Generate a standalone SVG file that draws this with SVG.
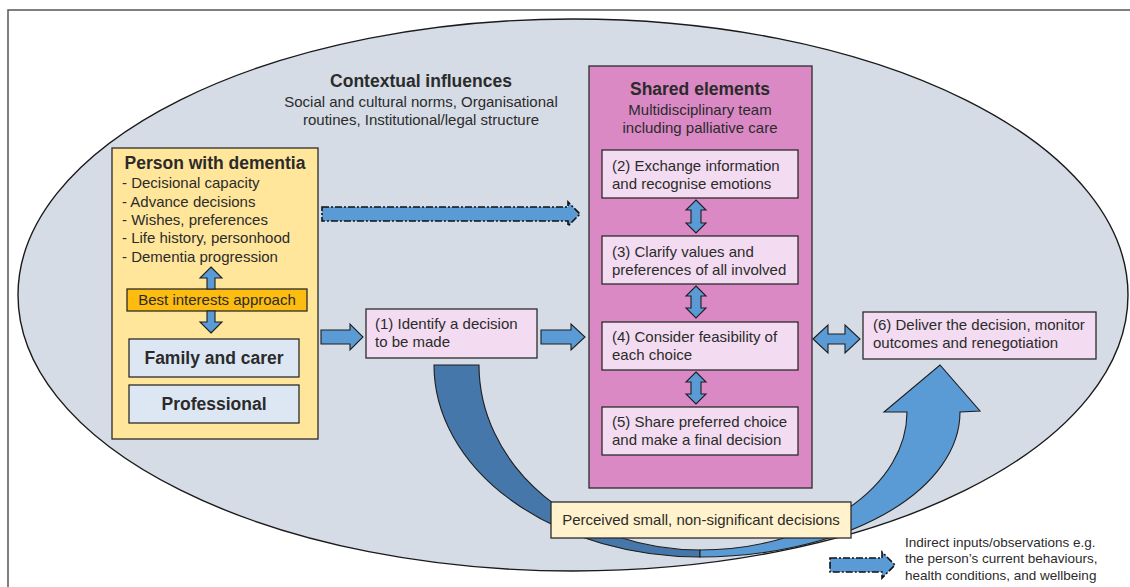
<svg xmlns="http://www.w3.org/2000/svg" width="1130" height="587" viewBox="0 0 1130 587">
<style>
text{font-family:"Liberation Sans",Arial,sans-serif;fill:#2b2b2b}
.t{font-size:15px}
.b{font-size:17.5px;font-weight:bold}
.s{font-size:13.5px}
.c{text-anchor:middle}
.box{stroke:#2b2b2b;stroke-width:1.3}
.pink{fill:#f3dcf1}
.arr{fill:#5b9bd5;stroke:#1e1e1e;stroke-width:1.1;stroke-linejoin:miter}
.dash{fill:#5b9bd5;stroke:#111;stroke-width:1.6;stroke-dasharray:7 2 2 2}
</style>
<rect x="8" y="10" width="1135" height="600" fill="#fff" stroke="#555" stroke-width="1.5"/>
<g id="context">
<ellipse cx="573" cy="295" rx="555" ry="276" fill="#d5dce6" stroke="#1a1a1a" stroke-width="1.4"/>
<text class="b c" x="421" y="87">Contextual influences</text>
<text class="t c" x="421" y="107">Social and cultural norms, Organisational</text>
<text class="t c" x="421" y="125">routines, Institutional/legal structure</text>
</g>
<g id="person">
<rect x="112" y="148" width="206" height="291" fill="#ffe69b" class="box"/>
<text class="b c" x="215" y="169">Person with dementia</text>
<text class="t" x="122" y="188">- Decisional capacity</text>
<text class="t" x="122" y="207">- Advance decisions</text>
<text class="t" x="122" y="225">- Wishes, preferences</text>
<text class="t" x="122" y="243">- Life history, personhood</text>
<text class="t" x="122" y="262">- Dementia progression</text>
</g>
<g id="best-interests">
<rect x="127" y="289" width="180" height="22" fill="#fdbc10" class="box"/>
<text class="t c" x="217" y="305">Best interests approach</text>
</g>
<g id="family">
<rect x="129" y="339" width="170" height="38" fill="#dde7f3" class="box"/>
<text class="b c" x="214" y="364">Family and carer</text>
</g>
<g id="professional">
<rect x="129" y="385" width="170" height="38" fill="#dde7f3" class="box"/>
<text class="b c" x="214" y="410">Professional</text>
</g>
<g id="step1">
<rect x="366" y="309" width="171" height="49" class="box pink"/>
<text class="t" x="375" y="329">(1) Identify a decision</text>
<text class="t" x="375" y="347">to be made</text>
</g>
<g id="shared">
<rect x="589" y="66" width="223" height="422" fill="#da89c5" class="box"/>
<text class="b c" x="700" y="95">Shared elements</text>
<text class="t c" x="700" y="115">Multidisciplinary team</text>
<text class="t c" x="700" y="133">including palliative care</text>
</g>
<g id="step2">
<rect x="602" y="150" width="196" height="48" class="box pink"/>
<text class="t" x="612" y="171">(2) Exchange information</text>
<text class="t" x="612" y="189">and recognise emotions</text>
</g>
<g id="step3">
<rect x="602" y="236" width="196" height="48" class="box pink"/>
<text class="t" x="612" y="257">(3) Clarify values and</text>
<text class="t" x="612" y="275">preferences of all involved</text>
</g>
<g id="step4">
<rect x="602" y="322" width="196" height="48" class="box pink"/>
<text class="t" x="612" y="342">(4) Consider feasibility of</text>
<text class="t" x="612" y="360">each choice</text>
</g>
<g id="step5">
<rect x="602" y="407" width="196" height="48" class="box pink"/>
<text class="t" x="612" y="427">(5) Share preferred choice</text>
<text class="t" x="612" y="445">and make a final decision</text>
</g>
<g id="step6">
<rect x="863" y="312" width="233" height="47" class="box pink"/>
<text class="t" x="873" y="330">(6) Deliver the decision, monitor</text>
<text class="t" x="873" y="348">outcomes and renegotiation</text>
</g>
<g id="connectors">
<path d="M434,365 L479,365 A221,185 0 0 0 700,550 L700,557 A266,192 0 0 1 434,365 Z" fill="#4677aa" stroke="#1e1e1e" stroke-width="1.1"/>
<path d="M700,557 A260,145 0 0 0 960,412 L980,411 L940,365 L884,412 L907,412 A207,138 0 0 1 700,550 Z" class="arr"/>
<path d="M322,207 L568,207 L568,202 L580,214 L568,226 L568,221 L322,221 Z" class="dash"/>
<path d="M321,330 L350,330 L350,324 L363,337 L350,350 L350,344 L321,344 Z" class="arr"/>
<path d="M541,330 L571,330 L571,324 L585,337 L571,350 L571,344 L541,344 Z" class="arr"/>
<path d="M813,339 L828,325 L828,334 L845,334 L845,325 L860,339 L845,353 L845,344 L828,344 L828,353 Z" class="arr"/>
<path d="M211,267 L222,278 L215,278 L215,289 L207,289 L207,278 L200,278 Z" class="arr"/>
<path d="M211,333 L222,322 L215,322 L215,311 L207,311 L207,322 L200,322 Z" class="arr"/>
<path d="M696,200 L706,210 L701,210 L701,223 L706,223 L696,233 L686,223 L691,223 L691,210 L686,210 Z" class="arr"/>
<path d="M696,286 L706,296 L701,296 L701,308 L706,308 L696,318 L686,308 L691,308 L691,296 L686,296 Z" class="arr"/>
<path d="M696,372 L706,382 L701,382 L701,394 L706,394 L696,404 L686,394 L691,394 L691,382 L686,382 Z" class="arr"/>
</g>
<g id="perceived">
<rect x="551" y="502" width="300" height="36" fill="#fff2cc" class="box"/>
<text class="t c" x="701" y="525">Perceived small, non-significant decisions</text>
</g>
<g id="legend">
<path d="M830,558 L882,558 L882,552 L895,565 L882,578 L882,572 L830,572 Z" class="dash"/>
<text class="s" x="905" y="547">Indirect inputs/observations e.g.</text>
<text class="s" x="905" y="563">the person’s current behaviours,</text>
<text class="s" x="905" y="580">health conditions, and wellbeing</text>
</g>
</svg>
